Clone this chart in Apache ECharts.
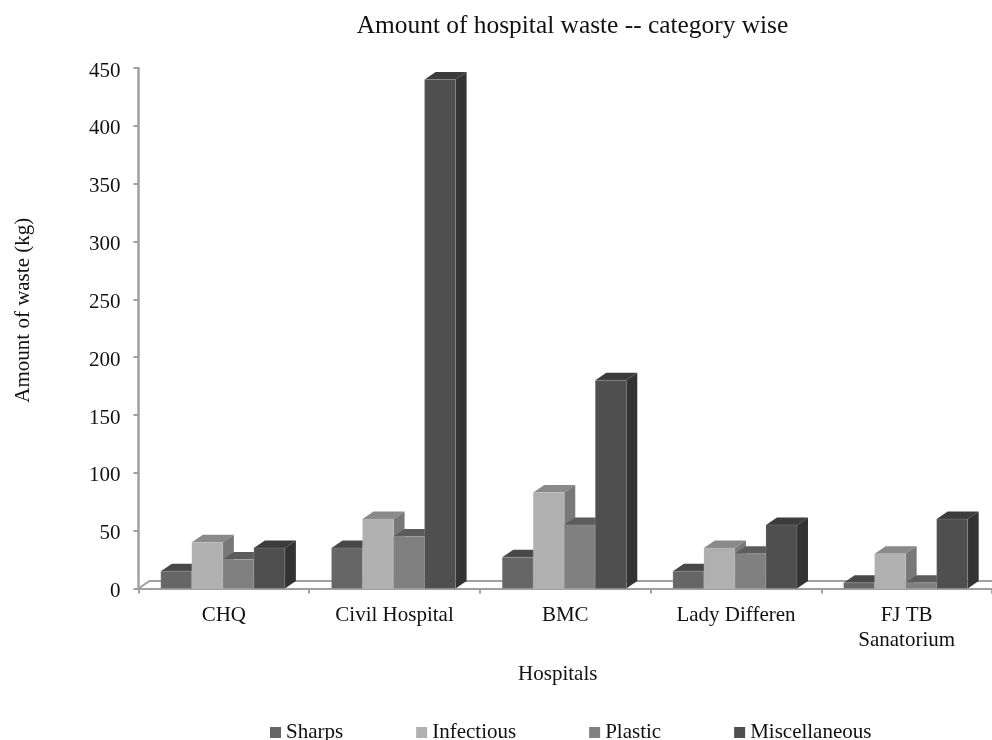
<!DOCTYPE html>
<html><head><meta charset="utf-8">
<style>html,body{margin:0;padding:0;background:#fff}#c{width:992px;height:740px}</style>
<script src="https://cdn.jsdelivr.net/npm/echarts@6/dist/echarts.min.js"></script>
</head><body><div id="c"></div>
<script>
const categories = ['CHQ','Civil Hospital','BMC','Lady Differen','FJ TB\nSanatorium'];
const sharps = [15,35,27,15,5];
const infectious = [40,60,83,35,30];
const plastic = [25,45,55,30,5];
const miscellaneous = [35,440,180,55,60];
const yTicks = {min:0,max:450,interval:50};

const seriesDefs = [
  {name:'Sharps',data:sharps,front:'#666666',top:'#484848',side:'#505050',idx:0},
  {name:'Infectious',data:infectious,front:'#b0b0b0',top:'#8a8a8a',side:'#787878',idx:1},
  {name:'Plastic',data:plastic,front:'#808080',top:'#5c5c5c',side:'#5c5c5c',idx:2},
  {name:'Miscellaneous',data:miscellaneous,front:'#4f4f4f',top:'#3c3c3c',side:'#333333',idx:3}
];
const DX = 11, DY = 7.5, BW = 0.1817, SHIFT = -1;
const font = 'Liberation Serif';
const axisGrey = '#a0a0a0';
const textColor = '#111';

function barRender(def){
  return function(params, api){
    const c = api.value(0), v = api.value(1);
    const base = api.coord([c,0]);
    const top = api.coord([c,v]);
    const cw = api.size([1,0])[0];
    const w = cw*BW;
    const x0 = base[0] + SHIFT + (def.idx-2)*w;
    const x1 = x0 + w;
    const y0 = top[1], y1 = base[1];
    const edge = {stroke:'rgba(215,215,215,0.3)',lineWidth:0.6};
    return {type:'group',children:[
      {type:'polygon',shape:{points:[[x0,y0],[x0+DX,y0-DY],[x1+DX,y0-DY],[x1,y0]]},style:{fill:def.top}},
      {type:'polygon',shape:{points:[[x1,y0],[x1+DX,y0-DY],[x1+DX,y1-DY],[x1,y1]]},style:{fill:def.side}},
      {type:'rect',shape:{x:x0,y:y0,width:w,height:y1-y0},style:Object.assign({fill:def.front},edge)}
    ]};
  };
}
function floorRender(params, api){
  const r = params.coordSys;
  const yb = r.y + r.height;
  return {type:'polyline',shape:{points:[[r.x,yb],[r.x+DX,yb-DY],[r.x+r.width,yb-DY]]},
    style:{fill:null,stroke:axisGrey,lineWidth:2}};
}
const series = [{type:'custom',name:'floor',silent:true,renderItem:floorRender,data:[[0,0]],encode:{x:0,y:1},z:1}]
 .concat(seriesDefs.map(d=>({
   type:'custom',name:d.name,renderItem:barRender(d),
   data:d.data.map((v,i)=>[i,v]),encode:{x:0,y:1},
   itemStyle:{color:d.front},z:2
 })));

const chart = echarts.init(document.getElementById('c'),null,{renderer:'canvas'});
chart.setOption({
  animation:false,
  backgroundColor:'#fff',
  textStyle:{fontFamily:font,color:textColor},
  title:{text:'Amount of hospital waste -- category wise',left:567.5,top:9,textAlign:'center',
    textStyle:{fontFamily:font,fontSize:25.4,fontWeight:'normal',color:textColor}},
  legend:{data:seriesDefs.map(d=>d.name),top:722,left:270,padding:0,itemWidth:11,itemHeight:11,itemGap:73,icon:'rect',
    textStyle:{fontFamily:font,fontSize:21,color:textColor}},
  grid:{left:138.5,right:0,top:68,bottom:151.5,outerBoundsMode:'none'},
  xAxis:{type:'category',data:categories,name:'Hospitals',nameLocation:'middle',nameGap:75,
    nameTextStyle:{fontFamily:font,fontSize:21,color:textColor,padding:[0,15,0,0]},
    axisLine:{lineStyle:{color:axisGrey,width:2}},
    axisTick:{show:true,length:5,lineStyle:{color:axisGrey,width:2}},
    axisLabel:{fontFamily:font,fontSize:21,color:textColor,margin:14,interval:0,lineHeight:25},
    splitLine:{show:false}},
  yAxis:{type:'value',min:yTicks.min,max:yTicks.max,interval:yTicks.interval,
    name:'Amount of waste (kg)',nameLocation:'middle',nameGap:105,
    nameTextStyle:{fontFamily:font,fontSize:21,color:textColor,padding:[0,0,0,36]},
    axisLine:{show:true,lineStyle:{color:axisGrey,width:2.5}},
    axisTick:{show:true,length:5,lineStyle:{color:axisGrey,width:2}},
    axisLabel:{margin:18,formatter:'{a|{value}}',
      rich:{a:{fontFamily:font,fontSize:21,color:textColor,padding:[6,0,0,0]}}},
    splitLine:{show:false}},
  series:series
});
</script></body></html>
